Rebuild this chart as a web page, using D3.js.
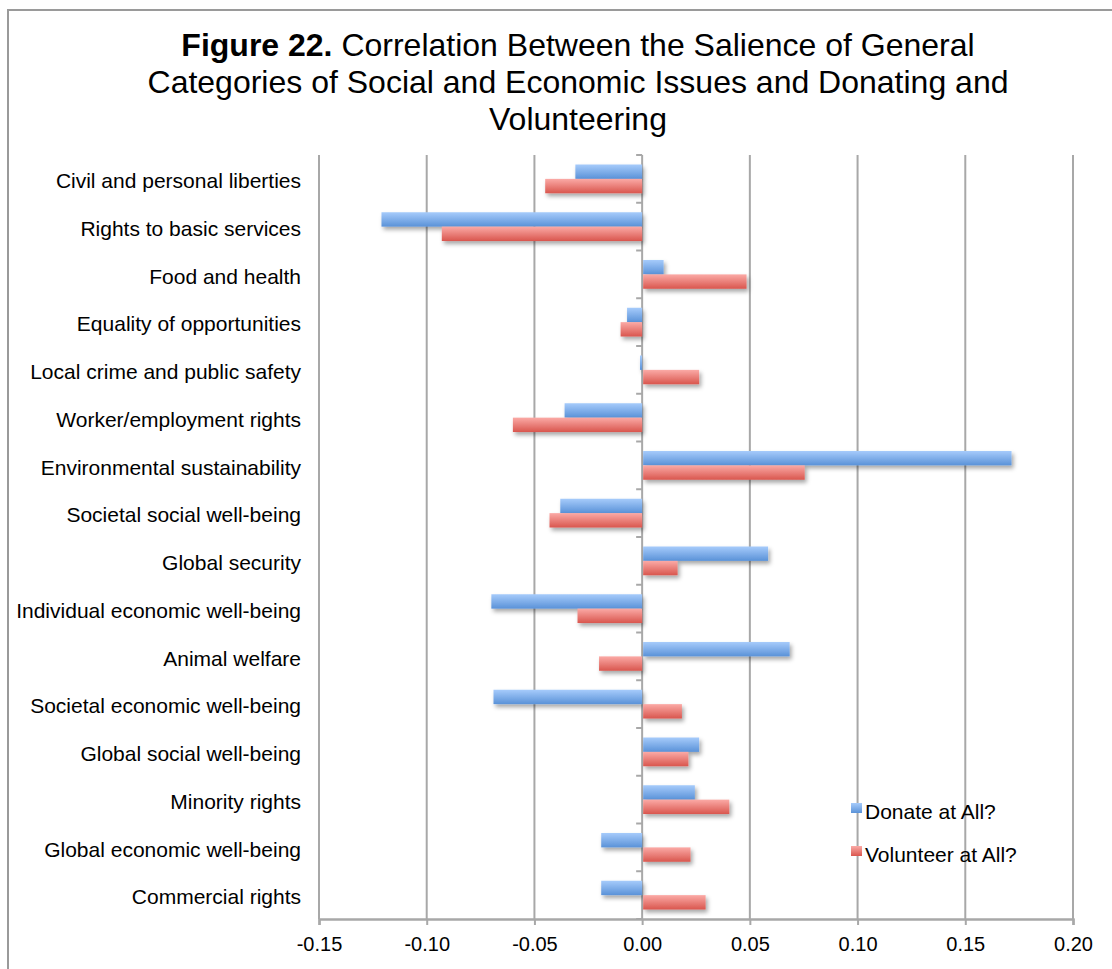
<!DOCTYPE html>
<html>
<head>
<meta charset="utf-8">
<script src="https://cdn.jsdelivr.net/npm/d3@7"></script>
<style>
  html, body { margin: 0; padding: 0; background: #fff; }
  svg { display: block; font-family: "Liberation Sans", Arial, Helvetica, sans-serif; }
</style>
</head>
<body>
<svg id="chart" width="1112" height="969"></svg>
<script>
const categories = [
  "Civil and personal liberties",
  "Rights to basic services",
  "Food and health",
  "Equality of opportunities",
  "Local crime and public safety",
  "Worker/employment rights",
  "Environmental sustainability",
  "Societal social well-being",
  "Global security",
  "Individual economic well-being",
  "Animal welfare",
  "Societal economic well-being",
  "Global social well-being",
  "Minority rights",
  "Global economic well-being",
  "Commercial rights"
];
const donate = [-0.031, -0.121, 0.0095, -0.007, -0.001, -0.036, 0.171, -0.038, 0.058, -0.070, 0.068, -0.069, 0.026, 0.024, -0.019, -0.019];
const volunteer = [-0.045, -0.093, 0.048, -0.010, 0.026, -0.060, 0.075, -0.043, 0.016, -0.030, -0.020, 0.018, 0.021, 0.040, 0.022, 0.029];
const seriesNames = ["Donate at All?", "Volunteer at All?"];
const xTicks = [-0.15, -0.10, -0.05, 0.00, 0.05, 0.10, 0.15, 0.20];
const titleLines = [
  [{t: "Figure 22.", b: true}, {t: " Correlation Between the Salience of General", b: false}],
  [{t: "Categories of Social and Economic Issues and Donating and", b: false}],
  [{t: "Volunteering", b: false}]
];

const svg = d3.select("#chart");
const margin = {left: 319, right: 1073, top: 155, bottom: 919};

const x = d3.scaleLinear().domain([-0.15, 0.20]).range([margin.left, margin.right]);
const y = d3.scaleBand().domain(categories).range([margin.top, margin.bottom]).padding(0);
const ySeries = d3.scaleBand().domain(seriesNames).range([0, y.bandwidth()])
  .paddingInner(0).paddingOuter(0.66);

const defs = svg.append("defs");
const grads = [
  {id: "gBlue", top: "#a6cbfb", bottom: "#5a92d8"},
  {id: "gRed", top: "#fbaaa6", bottom: "#d9564e"}
];
grads.forEach(g => {
  const lg = defs.append("linearGradient").attr("id", g.id)
    .attr("x1", 0).attr("y1", 0).attr("x2", 0).attr("y2", 1);
  lg.append("stop").attr("offset", "0%").attr("stop-color", g.top);
  lg.append("stop").attr("offset", "100%").attr("stop-color", g.bottom);
});
const shadow = defs.append("filter").attr("id", "shadow")
  .attr("x", "-10%").attr("y", "-30%").attr("width", "130%").attr("height", "190%");
shadow.append("feDropShadow").attr("dx", 2).attr("dy", 3).attr("stdDeviation", 2.2)
  .attr("flood-color", "#000").attr("flood-opacity", 0.35);

// outer frame
svg.append("rect").attr("x", 8).attr("y", 10).attr("width", 1120).attr("height", 980)
  .attr("fill", "none").attr("stroke", "#9a9a9a").attr("stroke-width", 2);

// title
const title = svg.append("text").attr("text-anchor", "middle").attr("font-size", 32).attr("fill", "#000");
titleLines.forEach((line, i) => {
  const tl = title.append("tspan").attr("x", 578).attr("y", 56 + i * 37);
  line.forEach(seg => {
    tl.append("tspan").text(seg.t).attr("font-weight", seg.b ? "bold" : "normal");
  });
});

// vertical gridlines
svg.append("g").selectAll("line").data(xTicks).join("line")
  .attr("x1", d => x(d)).attr("x2", d => x(d))
  .attr("y1", margin.top).attr("y2", margin.bottom)
  .attr("stroke", "#a8a8a8").attr("stroke-width", 2);

// bottom axis
const xAxis = d3.axisBottom(x).tickValues(xTicks).tickFormat(d => d.toFixed(2)).tickSize(6).tickPadding(7);
const gx = svg.append("g").attr("transform", `translate(0,${margin.bottom})`).call(xAxis);
gx.select(".domain").attr("stroke", "#a8a8a8").attr("stroke-width", 2.5);
gx.selectAll(".tick line").attr("stroke", "#a8a8a8").attr("stroke-width", 2);
gx.selectAll(".tick text").attr("font-size", 20).attr("fill", "#000")
  .attr("font-family", "Liberation Sans, Arial, sans-serif").attr("dy", "0.95em");

// category tick marks on the zero axis
const boundaries = categories.map(c => y(c)).concat([margin.bottom]);
svg.append("g").selectAll("line").data(boundaries).join("line")
  .attr("x1", x(0) - 6).attr("x2", x(0))
  .attr("y1", d => d).attr("y2", d => d)
  .attr("stroke", "#a8a8a8").attr("stroke-width", 2);

// category labels
svg.append("g").selectAll("text").data(categories).join("text")
  .attr("x", 301).attr("y", d => y(d) + y.bandwidth() / 2 + 2)
  .attr("dy", "0.35em").attr("text-anchor", "end")
  .attr("font-size", 21).attr("fill", "#000").text(d => d);

// bars
const series = [
  {name: seriesNames[0], values: donate, fill: "url(#gBlue)"},
  {name: seriesNames[1], values: volunteer, fill: "url(#gRed)"}
];
series.forEach(s => {
  svg.append("g").attr("filter", "url(#shadow)").selectAll("rect")
    .data(categories.map((c, i) => ({c, v: s.values[i]})))
    .join("rect")
    .attr("x", d => Math.min(x(0), x(d.v)) + (d.v >= 0 ? 1 : 0))
    .attr("width", d => Math.abs(x(d.v) - x(0)))
    .attr("y", d => y(d.c) + ySeries(s.name))
    .attr("height", ySeries.bandwidth())
    .attr("fill", s.fill);
});

// legend
const legend = svg.append("g");
series.forEach((s, i) => {
  const ly = 812 + i * 43;
  legend.append("rect").attr("x", 851).attr("y", ly - 9).attr("width", 11).attr("height", 10).attr("fill", s.fill);
  legend.append("text").attr("x", 865).attr("y", ly).attr("dy", "0.35em")
    .attr("font-size", 21).attr("fill", "#000").text(s.name);
});
</script>
</body>
</html>
